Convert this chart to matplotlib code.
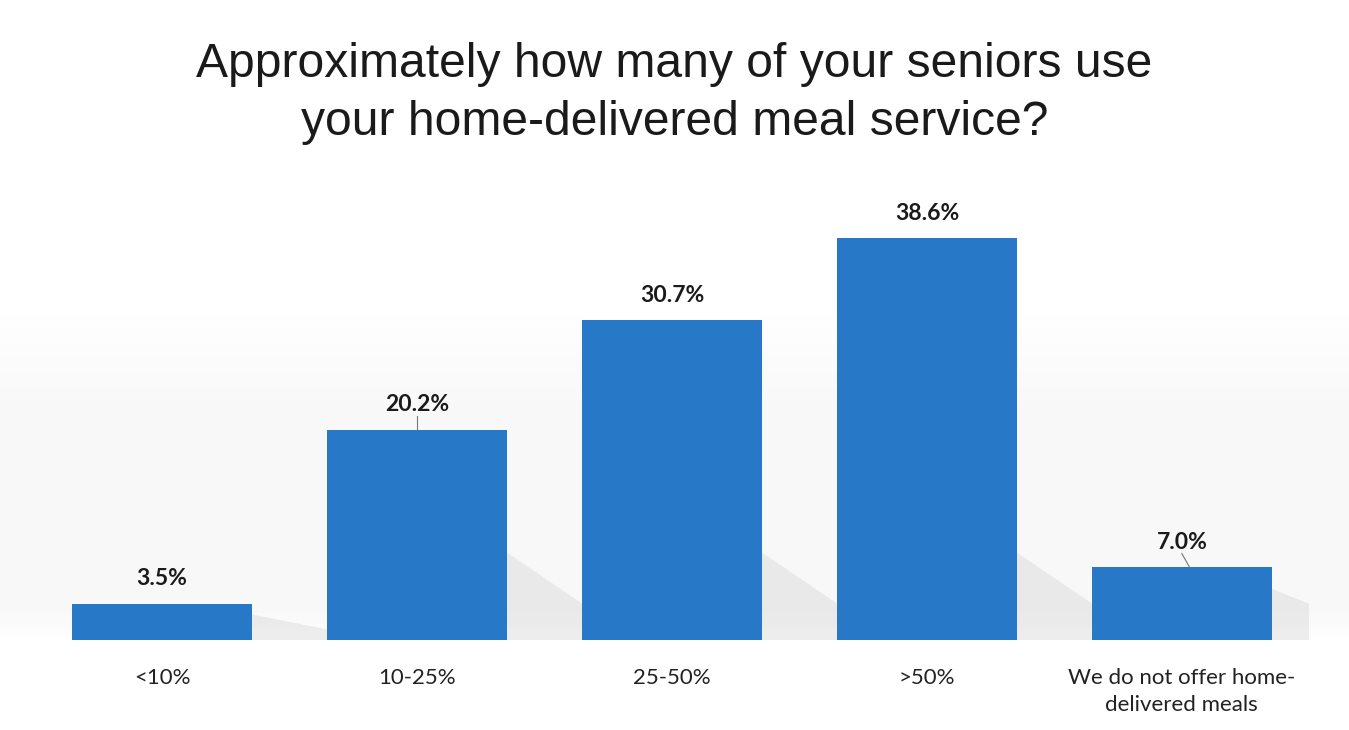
import numpy as np
import matplotlib.pyplot as plt
from matplotlib.patches import Polygon

# survey answers
categories = ["<10%", "10-25%", "25-50%", ">50%", "We do not offer home-\ndelivered meals"]
values = [3.5, 20.2, 30.7, 38.6, 7.0]
value_labels = ["3.5%", "20.2%", "30.7%", "38.6%", "7.0%"]
title = "Approximately how many of your seniors use\nyour home-delivered meal service?"

bar_color = "#2878c8"

fig = plt.figure(figsize=(13.49, 7.3), dpi=100)

# faint grey backdrop behind the lower part of the chart
bg = fig.add_axes([0, 0, 1, 1], zorder=0)
rows = np.linspace(0, 1, 200)
grad = np.clip((rows[:, None] - 0.42) / 0.14, 0, 1) * np.clip((0.88 - rows[:, None]) / 0.04, 0, 1)
grad = np.repeat(grad, 2, axis=1)
bg.imshow(grad, extent=[0, 1, 1, 0], aspect="auto", cmap="Greys", vmin=0, vmax=18)
bg.set_xlim(0, 1)
bg.set_ylim(1, 0)
bg.axis("off")

ax = fig.add_axes([0.0256, 0.1233, 0.945, 0.6418], zorder=1)
ax.patch.set_alpha(0)
x = np.arange(len(categories))
bars = ax.bar(x, values, width=0.706, color=bar_color, zorder=3)

# soft shadows to the right of each bar
for xi, v in zip(x, values):
    h = min(v, 12)
    shadow = Polygon([(xi + 0.353, 0), (xi + 0.353, h * 0.7), (xi + 0.75, h * 0.15), (xi + 0.75, 0)],
                     closed=True, facecolor="#c8c8c8", alpha=0.3, edgecolor="none", zorder=2)
    ax.add_patch(shadow)

for xi, v, lab in zip(x, values, value_labels):
    ax.text(xi, v + 1.4, lab, ha="center", va="bottom", fontsize=16.5,
            fontweight="bold", family="Lato", color="#1a1a1a")

# little leader lines
ax.plot([x[1], x[1]], [values[1], values[1] + 1.3], color="#777777", lw=0.8, zorder=4)
ax.plot([x[4] + 0.03, x[4]], [values[4], values[4] + 1.3], color="#777777", lw=0.8, zorder=4)

ax.set_xlim(-0.5, len(categories) - 0.5)
ax.set_ylim(0, 45)
ax.set_xticks(x)
ax.set_xticklabels(categories, fontsize=16, family="Lato", color="#222222", linespacing=1.45)
ax.tick_params(axis="x", length=0, pad=20)
ax.set_yticks([])
for s in ax.spines.values():
    s.set_visible(False)

fig.text(0.5, 0.872, title, ha="center", va="center", fontsize=34.6,
         family="Liberation Sans", color="#1a1a1a", linespacing=1.38)

fig.savefig("out.png", dpi=100)
